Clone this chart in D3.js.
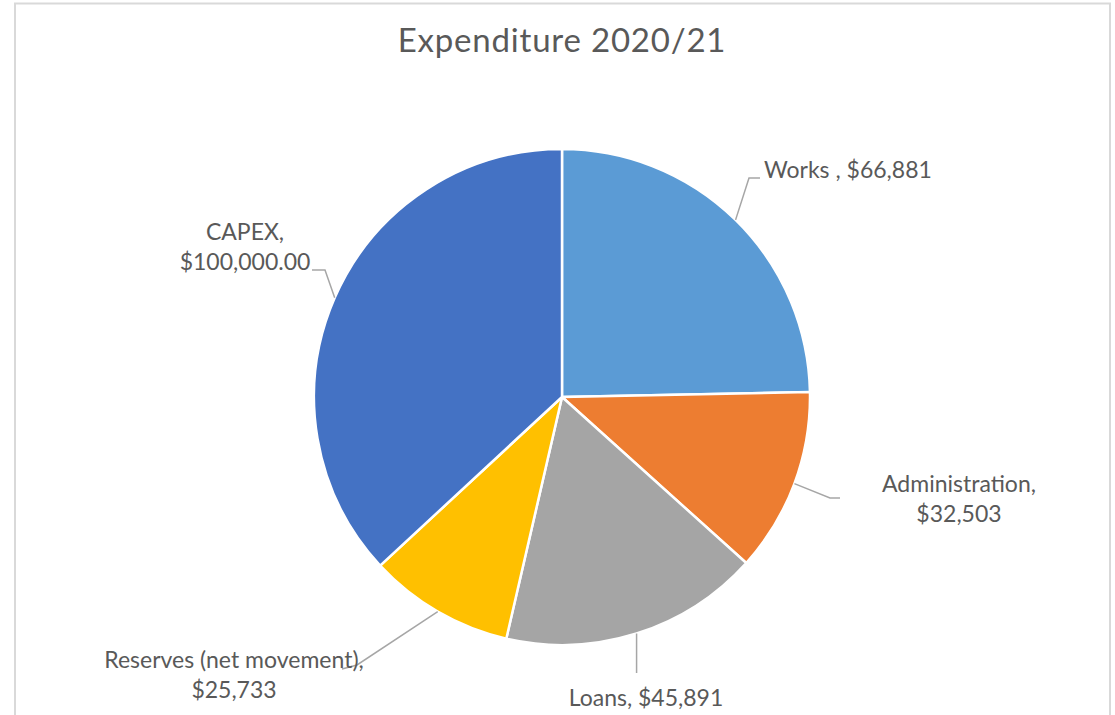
<!DOCTYPE html>
<html>
<head>
<meta charset="utf-8">
<script src="https://cdn.jsdelivr.net/npm/d3@7"></script>
<style>
  body { margin: 0; background: #fff; }
  svg text { font-family: Lato, "Open Sans", sans-serif; fill: #595959; }
</style>
</head>
<body>
<div id="chart"></div>
<script>
// data
var categories = ["Works", "Administration", "Loans", "Reserves (net movement)", "CAPEX"];
var values = [66881, 32503, 45891, 25733, 100000];
var valueLabels = ["$66,881", "$32,503", "$45,891", "$25,733", "$100,000.00"];
var labelText = [
  ["Works , $66,881"],
  ["Administration,", "$32,503"],
  ["Loans, $45,891"],
  ["Reserves (net movement),", "$25,733"],
  ["CAPEX,", "$100,000.00"]
];
var sliceColors = ["#5B9BD5", "#ED7D31", "#A5A5A5", "#FFC000", "#4472C4"];

// label placement (offsets from pie centre), not data
var labelLayout = [
  {tx: 202, ty: -219, anchor: "start", elbow: [187, -219], end: [198, -219]},
  {tx: 397, ty: 95, anchor: "middle", elbow: [268, 101], end: [278, 101]},
  {tx: 84, ty: 309, anchor: "middle", elbow: null, end: [76, 276]},
  {tx: -328, ty: 271, anchor: "middle", elbow: [-205, 268], end: [-220, 272]},
  {tx: -317, ty: -157, anchor: "middle", elbow: [-237, -127], end: [-250, -127]}
];

var width = 1115, height = 715;
var cx = 562, cy = 397, radius = 248;

var svg = d3.select("#chart")
  .append("svg")
    .attr("width", width)
    .attr("height", height);

// chart frame
svg.append("rect")
  .attr("x", 15)
  .attr("y", 3.5)
  .attr("width", 1095)
  .attr("height", 760)
  .attr("fill", "none")
  .attr("stroke", "#d9d9d9")
  .attr("stroke-width", 2);

svg.append("text")
  .text("Expenditure 2020/21")
  .attr("x", cx)
  .attr("y", 52)
  .attr("text-anchor", "middle")
  .style("font-size", "33px")
  .style("letter-spacing", "0.8px");

var pie = d3.pie()
  .sort(null)
  .value(function(d) { return d; });

var arcs = pie(values);

var arc = d3.arc()
  .innerRadius(0)
  .outerRadius(radius);

var edgeArc = d3.arc()
  .innerRadius(radius)
  .outerRadius(radius);

var g = svg.append("g")
  .attr("transform", "translate(" + cx + "," + cy + ")");

g.selectAll(".slice")
  .data(arcs)
  .enter()
  .append("path")
    .attr("class", "slice")
    .attr("d", arc)
    .attr("fill", function(d, i) { return sliceColors[i]; })
    .attr("stroke", "#fff")
    .attr("stroke-width", 2.5)
    .attr("stroke-linejoin", "round");

// leader lines
g.selectAll(".leader")
  .data(arcs)
  .enter()
  .append("polyline")
    .attr("class", "leader")
    .attr("points", function(d, i) {
      var p = edgeArc.centroid(d);
      var l = labelLayout[i];
      var pts = [p];
      if (l.elbow) {
        pts.push(l.elbow);
        pts.push(l.end);
      } else {
        pts.push([p[0], l.end[1]]);
      }
      return pts.map(function(q) { return q.join(","); }).join(" ");
    })
    .attr("fill", "none")
    .attr("stroke", "#A6A6A6")
    .attr("stroke-width", 1.5);

// labels
var labels = g.selectAll(".label")
  .data(arcs)
  .enter()
  .append("text")
    .attr("class", "label")
    .attr("text-anchor", function(d, i) { return labelLayout[i].anchor; })
    .style("font-size", "23px");

labels.each(function(d, i) {
  var l = labelLayout[i];
  d3.select(this).selectAll("tspan")
    .data(labelText[i])
    .enter()
    .append("tspan")
      .attr("x", l.tx)
      .attr("y", function(s, j) { return l.ty + j * 30; })
      .text(function(s) { return s; });
});
</script>
</body>
</html>
